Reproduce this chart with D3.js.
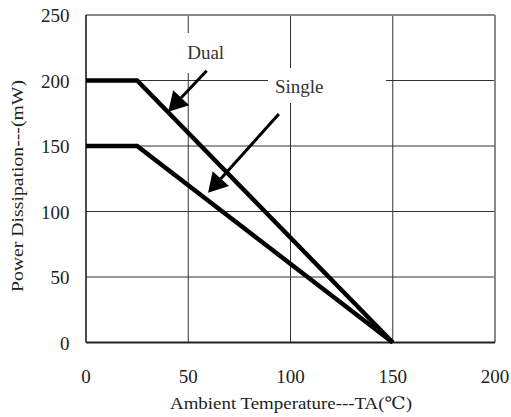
<!DOCTYPE html>
<html><head><meta charset="utf-8">
<script src="https://cdn.jsdelivr.net/npm/d3@7"></script>
<style>body{margin:0;background:#fff}svg{display:block}</style>
</head><body><svg id="c" width="511" height="417"></svg>
<script>
const xTicks = [0, 50, 100, 150, 200];
const yTicks = [0, 50, 100, 150, 200, 250];
const dualTemp = [0, 25, 150];
const dualPower = [200, 200, 0];
const singleTemp = [0, 25, 150];
const singlePower = [150, 150, 0];
const labels = ["Dual", "Single"];
const arrowFrom = [[59, 207.5], [94.3, 174.4]];
const arrowTo = [[40.2, 176.2], [59.7, 114.3]];
const labelPos = [[49.5, 216.4], [92.4, 190.7]];

const FONT = "'Liberation Serif', 'Times New Roman', 'DejaVu Serif', serif";
const svg = d3.select("#c");
const L = 86, R = 495, T = 15, B = 342.5;
const x = d3.scaleLinear().domain([0, 200]).range([L, R]);
const y = d3.scaleLinear().domain([0, 250]).range([B, T]);

// grid
svg.append("g").selectAll("line").data(xTicks.slice(1, -1)).join("line")
  .attr("x1", d => x(d)).attr("x2", d => x(d)).attr("y1", T).attr("y2", B)
  .attr("stroke", "#333").attr("stroke-width", 1);
svg.append("g").selectAll("line").data(yTicks.slice(1, -1)).join("line")
  .attr("x1", L).attr("x2", R).attr("y1", d => y(d)).attr("y2", d => y(d))
  .attr("stroke", "#333").attr("stroke-width", 1);

// white boxes behind labels (as in reference, they cut the grid)
svg.append("rect").attr("x", 170).attr("y", 33).attr("width", 60).attr("height", 40).attr("fill", "#fff");
svg.append("rect").attr("x", 268).attr("y", 68).attr("width", 118).attr("height", 35).attr("fill", "#fff");

// frame
svg.append("line").attr("x1", L).attr("x2", R).attr("y1", T).attr("y2", T).attr("stroke", "#888").attr("stroke-width", 2);
svg.append("line").attr("x1", R).attr("x2", R).attr("y1", T).attr("y2", B).attr("stroke", "#888").attr("stroke-width", 2);
svg.append("line").attr("x1", L).attr("x2", L).attr("y1", T).attr("y2", B).attr("stroke", "#111").attr("stroke-width", 1.5);
svg.append("line").attr("x1", L).attr("x2", R).attr("y1", B).attr("y2", B).attr("stroke", "#222").attr("stroke-width", 2);

// labels
svg.append("g").selectAll("text").data(labels).join("text")
  .attr("x", (d, i) => x(labelPos[i][0])).attr("y", (d, i) => y(labelPos[i][1]))
  .style("font-family", FONT).attr("font-size", 19).attr("fill", "#333").text(d => d);

// curves
const line = d3.line().x(d => x(d[0])).y(d => y(d[1]));
[[dualTemp, dualPower], [singleTemp, singlePower]].forEach(([tx, py]) => {
  svg.append("path").datum(tx.map((v, i) => [v, py[i]])).attr("d", line)
    .attr("fill", "none").attr("stroke", "#000").attr("stroke-width", 4.5).attr("stroke-linejoin", "miter");
});

// arrows
arrowFrom.forEach((f, i) => {
  const x1 = x(f[0]), y1 = y(f[1]), x2 = x(arrowTo[i][0]), y2 = y(arrowTo[i][1]);
  const ang = Math.atan2(y2 - y1, x2 - x1);
  const hl = 19, hw = 11;
  const bx = x2 - hl * Math.cos(ang), by = y2 - hl * Math.sin(ang);
  svg.append("line").attr("x1", x1).attr("y1", y1).attr("x2", bx).attr("y2", by)
    .attr("stroke", "#000").attr("stroke-width", 3);
  const px = -Math.sin(ang), py = Math.cos(ang);
  svg.append("path").attr("d", `M${x2},${y2}L${bx + hw * px},${by + hw * py}L${bx - hw * px},${by - hw * py}Z`)
    .attr("fill", "#000");
});

// tick labels
svg.append("g").selectAll("text").data(yTicks).join("text")
  .attr("x", 69.5).attr("y", d => y(d) + 7).attr("text-anchor", "end")
  .style("font-family", FONT).attr("font-size", 19).attr("fill", "#222").text(d => d);
svg.append("g").selectAll("text").data(xTicks).join("text")
  .attr("x", d => x(d)).attr("y", 383).attr("text-anchor", "middle")
  .style("font-family", FONT).attr("font-size", 19).attr("fill", "#222").text(d => d);

// axis titles
svg.append("text").attr("x", 291).attr("y", 409).attr("text-anchor", "middle")
  .style("font-family", FONT).attr("font-size", 17).attr("fill", "#222")
  .attr("textLength", 242).attr("lengthAdjust", "spacingAndGlyphs")
  .text("Ambient Temperature---TA(℃)");
svg.append("text").attr("transform", "translate(23,186) rotate(-90)").attr("text-anchor", "middle")
  .style("font-family", FONT).attr("font-size", 17).attr("fill", "#222")
  .attr("textLength", 212).attr("lengthAdjust", "spacingAndGlyphs")
  .text("Power Dissipation---(mW)");
</script></body></html>
